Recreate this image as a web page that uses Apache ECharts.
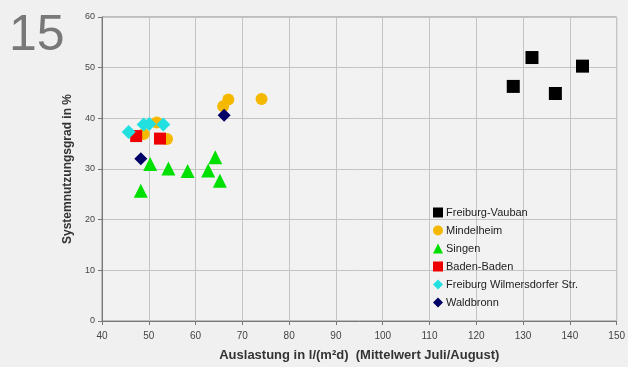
<!DOCTYPE html>
<html><head><meta charset="utf-8">
<script src="https://cdn.jsdelivr.net/npm/echarts@6/dist/echarts.min.js"></script>
<style>html,body{margin:0;padding:0;background:#f0f0f0}#c{width:628px;height:367px}</style>
</head><body><div id="c"></div>
<script>
const seriesNames = ["Freiburg-Vauban","Mindelheim","Singen","Baden-Baden","Freiburg Wilmersdorfer Str.","Waldbronn"];
const vauban = [[131.9,52.0],[142.7,50.3],[127.9,46.3],[136.9,44.9]];
const mindelheim = [[48.9,36.9],[51.7,39.2],[53.9,35.9],[65.9,42.4],[67.0,43.7],[74.1,43.8]];
const singen = [[48.3,25.7],[50.3,31.0],[54.2,30.1],[58.3,29.6],[62.7,29.7],[64.2,32.3],[65.2,27.7]];
const badenBaden = [[47.3,36.5],[52.4,36.0]];
const wilmersdorfer = [[45.7,37.3],[48.9,38.8],[50.1,38.9],[53.1,38.8]];
const waldbronn = [[48.3,32.0],[66.1,40.6]];
const xTicks = [40,150,10];
const yTicks = [0,60,10];

const colors = ["#000000","#f5b800","#00e000","#ee0000","#22e0e0","#000066"];
const symbols = ["rect","circle","triangle","rect","diamond","diamond"];
const sizes = [13,12,14,12,14,13];
const datas = [vauban,mindelheim,singen,badenBaden,wilmersdorfer,waldbronn];
const order = [1,3,4,2,5,0];

const chart = echarts.init(document.getElementById('c'));
chart.setOption({
  backgroundColor:'#f0f0f0',
  animation:false,
  textStyle:{fontFamily:'Liberation Sans, Arial, sans-serif'},
  graphic:[{type:'text',left:9,top:11,style:{text:'15',fontSize:50,fill:'#787878',fontFamily:'Liberation Sans, Arial, sans-serif',fontWeight:'normal'}}],
  grid:{left:102,right:11,top:17,bottom:46,show:true,borderColor:'#8a8a8a',borderWidth:1,backgroundColor:'#f2f2f2'},
  xAxis:{type:'value',min:xTicks[0],max:xTicks[1],interval:xTicks[2],
    name:'Auslastung in l/(m²d)  (Mittelwert Juli/August)',nameLocation:'middle',nameGap:28,
    nameTextStyle:{fontSize:13,color:'#333',fontWeight:'bold'},
    axisLine:{lineStyle:{color:'#777'}},axisTick:{show:true,length:4,lineStyle:{color:'#777'}},
    axisLabel:{fontSize:10,color:'#444',margin:10},
    splitLine:{lineStyle:{color:'#c4c4c4'}}},
  yAxis:{type:'value',min:yTicks[0],max:yTicks[1],interval:yTicks[2],
    name:'Systemnutzungsgrad in %',nameLocation:'middle',nameGap:24,
    nameTextStyle:{fontSize:12,color:'#333',fontWeight:'bold'},
    axisLine:{show:true,lineStyle:{color:'#777'}},axisTick:{show:true,length:4,lineStyle:{color:'#777'}},
    axisLabel:{fontSize:9,color:'#444',margin:7},
    splitLine:{lineStyle:{color:'#c4c4c4'}}},
  legend:{orient:'vertical',left:428,top:202,itemGap:7,itemWidth:10,itemHeight:10,
    textStyle:{fontSize:11,color:'#222',padding:[0,0,0,-2]},
    data:seriesNames.map((n,i)=>({name:n,icon:symbols[i]}))},
  series:order.map(i=>({name:seriesNames[i],type:'scatter',data:datas[i],symbol:symbols[i],symbolSize:sizes[i],
    itemStyle:{color:colors[i],opacity:1},z:2+order.indexOf(i)}))
});
</script></body></html>
